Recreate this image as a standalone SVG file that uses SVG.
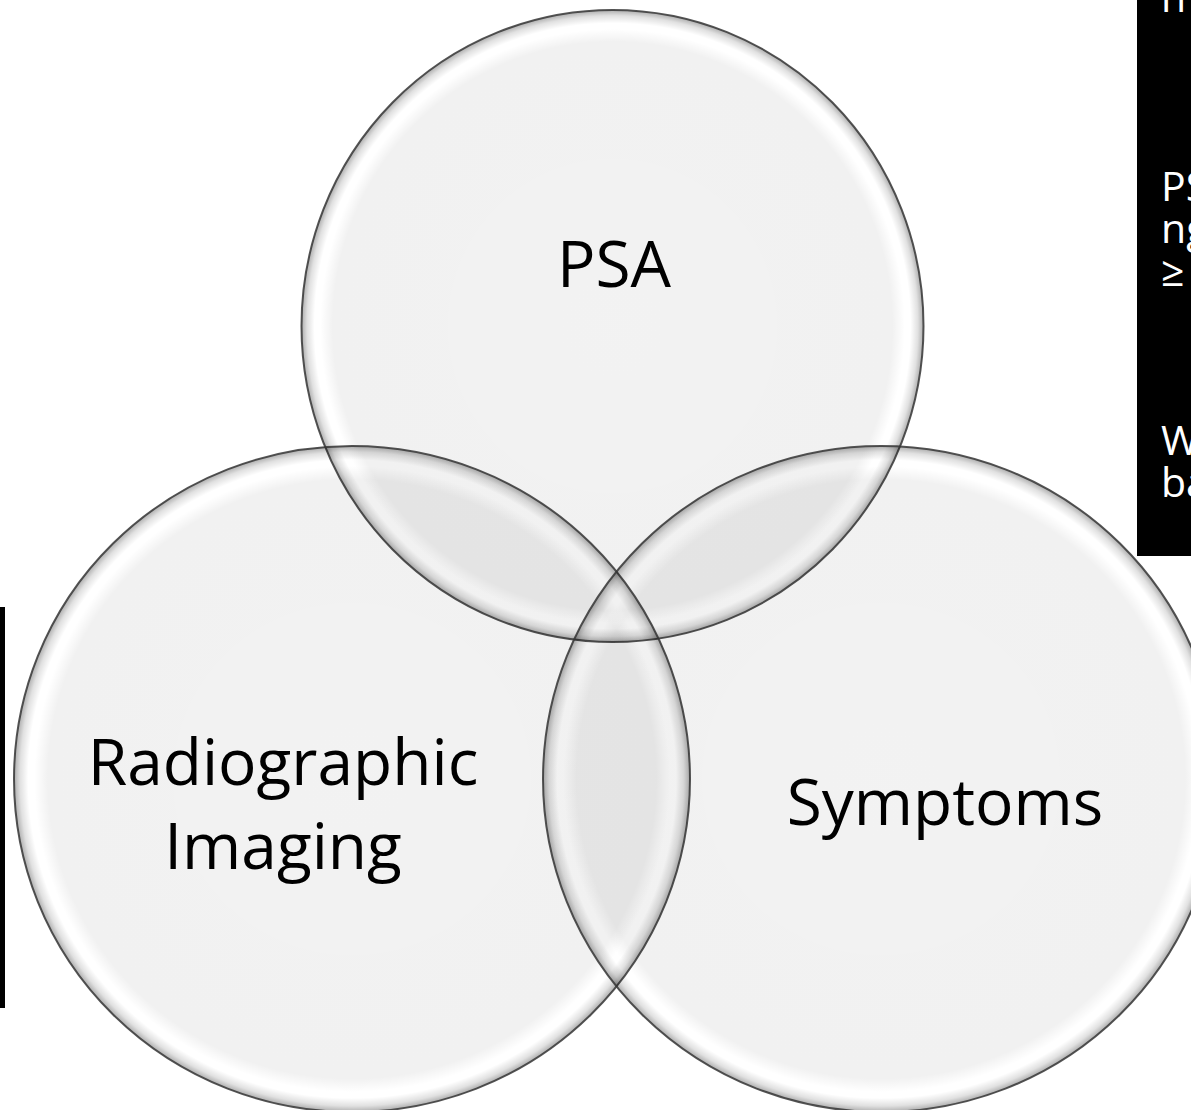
<svg xmlns="http://www.w3.org/2000/svg" width="1191" height="1110" viewBox="0 0 1191 1110">
  <style>
    .bubble { fill: url(#bevel); stroke: #353535; stroke-width: 2; stroke-opacity: 0.85; }
    .label { font-family: "Open Sans", "Noto Sans", "Liberation Sans", sans-serif; font-size: 64px; fill: #000; text-anchor: middle; }
    .side { font-family: "Open Sans", "Noto Sans", "Liberation Sans", sans-serif; font-size: 41px; fill: #fff; }
  </style>
  <defs>
    <radialGradient id="bevel" cx="0.5" cy="0.5" r="0.5">
      <stop offset="0" stop-color="#000" stop-opacity="0.05"/>
      <stop offset="0.9" stop-color="#000" stop-opacity="0.055"/>
      <stop offset="0.94" stop-color="#000" stop-opacity="0.0"/>
      <stop offset="0.958" stop-color="#000" stop-opacity="0.0"/>
      <stop offset="0.982" stop-color="#000" stop-opacity="0.12"/>
      <stop offset="1" stop-color="#000" stop-opacity="0.32"/>
    </radialGradient>
  </defs>
  <rect x="0" y="0" width="1191" height="1110" fill="#ffffff"/>

  <g id="side-panel">
    <rect x="1137" y="-10" width="60" height="566" fill="#000"/>
    <text class="side" x="1161" y="12">n</text>
    <text class="side" x="1161" y="201">PS</text>
    <text class="side" x="1161" y="243">ng</text>
    <text class="side" x="1161" y="286">≥</text>
    <text class="side" x="1161" y="455">W</text>
    <text class="side" x="1161" y="497">ba</text>
  </g>

  <g id="left-bar">
    <rect x="0" y="607" width="5" height="401" fill="#000"/>
  </g>

  <g id="connectors"/>

  <g id="node-psa">
    <ellipse class="bubble" cx="612.5" cy="326" rx="311" ry="316"/>
    <text class="label" x="614" y="287">PSA</text>
  </g>

  <g id="node-imaging">
    <ellipse class="bubble" cx="352" cy="779" rx="338" ry="333"/>
    <text class="label" x="283" y="785">Radiographic</text>
    <text class="label" x="283" y="869">Imaging</text>
  </g>

  <g id="node-symptoms">
    <ellipse class="bubble" cx="881" cy="779" rx="338" ry="333"/>
    <text class="label" x="945" y="825">Symptoms</text>
  </g>
</svg>
